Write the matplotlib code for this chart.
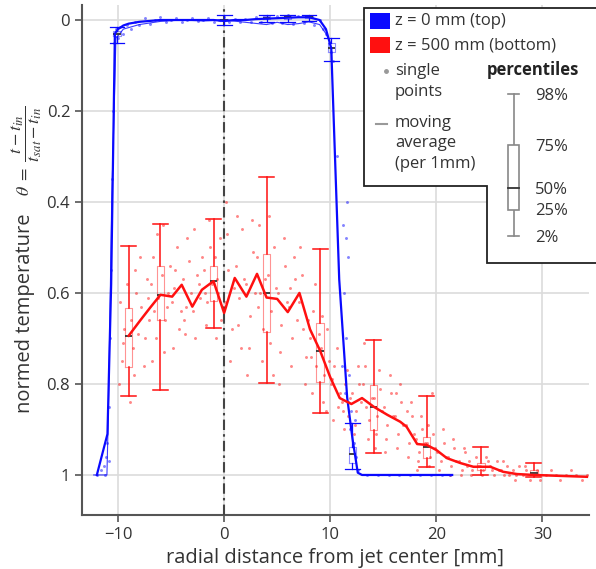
"""Normed temperature vs radial distance from the jet center (z = 0 / 500 mm)."""

import matplotlib
matplotlib.use("Agg")
import matplotlib.pyplot as plt
from matplotlib.patches import Polygon, Rectangle
from matplotlib.lines import Line2D

plt.rcParams["font.family"] = ["Open Sans", "DejaVu Sans"]
plt.rcParams["mathtext.fontset"] = "stix"

W, H = 596, 569
BLUE = "#0a0aff"
RED = "#ff1010"
INK = "#333333"

# ---- moving averages (per 1 mm) ----
blue_ma_x = [-12.0, -11.0, -10.65, -10.3, -10.0, -9.5, -9.0, -8.0, -7.0, -6.0, -5.0, -4.0,
             -3.0, -2.0, -1.0, 0.0, 1.0, 2.0, 3.0, 4.0, 5.0, 6.0, 7.0, 8.0, 9.0, 9.6,
             10.1, 10.85, 11.6, 12.1, 12.6, 13.0, 15.0, 17.0, 19.0, 21.5]
blue_ma_y = [1.0, 0.91, 0.58, 0.03, 0.02, 0.012, 0.008, 0.004, 0.002, 0.0, 0.0, 0.0,
             0.0, 0.0, 0.0, 0.002, 0.0, 0.0, -0.002, -0.003, -0.004, -0.005, -0.006, -0.006, 0.0, 0.02,
             0.062, 0.57, 0.83, 0.92, 0.995, 1.0, 1.0, 1.0, 1.0, 1.0]
blue_ma2_x = [-12.3, -11.05, -10.9, -10.6, -10.2, -9.5, -8.0, -6.0, -4.0, -2.0, 0.0, 2.0,
              4.0, 5.0, 6.0, 7.0, 8.0, 9.0, 9.6, 10.0]
blue_ma2_y = [1.0, 1.0, 0.85, 0.4, 0.04, 0.02, 0.01, 0.003, 0.0, 0.002, 0.0, 0.005,
              0.01, 0.005, 0.01, 0.008, 0.004, 0.01, 0.03, 0.05]

red_ma_x = [-9.0, -7.9, -7.0, -6.0, -4.9, -4.0, -3.0, -2.1, -1.0, 0.0, 1.0, 2.1, 3.1, 4.0,
            5.0, 6.0, 7.1, 8.1, 9.05, 10.0, 10.9, 12.0, 13.0, 14.1, 15.4, 16.6, 17.2, 18.2,
            19.1, 20.0, 21.0, 22.3, 23.5, 25.1, 26.3, 27.6, 29.2, 34.2]
red_ma_y = [0.694, 0.66, 0.633, 0.604, 0.608, 0.582, 0.63, 0.593, 0.574, 0.644, 0.567, 0.608,
            0.558, 0.61, 0.613, 0.642, 0.60, 0.68, 0.727, 0.785, 0.831, 0.844, 0.831, 0.85,
            0.868, 0.883, 0.894, 0.932, 0.934, 0.945, 0.963, 0.974, 0.982, 0.982, 0.993,
            0.998, 1.0, 1.004]

# ---- single points ----
blue_pts_x = [-10.4, -10.2, -10.0, -9.8, -9.5, -9.2, -8.8, -8.4, -8.0, -7.5, -7.0, -6.5, -6.0,
              -5.5, -5.0, -4.5, -4.0, -3.5, -3.0, -2.5, -2.0, -1.5, -1.0, -0.5, 0.0, 0.5, 1.0,
              1.5, 2.0, 2.5, 3.0, 3.5, 4.0, 4.5, 5.0, 5.5, 6.0, 6.5, 7.0, 7.5, 8.0, 8.5, 9.0,
              9.3, 9.6, 9.9, 10.1, 10.3,
              -10.5, -10.6, -10.7, -10.8, -10.9, -11.0, -11.1, -11.3, -11.6, -12.0, -11.2, -10.9,
              10.6, 11.2, 11.6, 11.5, 11.7, 11.3, 11.5, 11.8, 11.4, 12.0, 11.9, 12.2, 12.4, 12.6,
              12.3, 11.7, 11.1,
              13.5, 14.5, 15.5, 16.5, 17.5, 18.5, 19.5, 20.5, 21.3]
blue_pts_y = [0.05, 0.02, 0.04, 0.015, 0.03, 0.01, 0.02, 0.005, 0.012, -0.005, 0.008, 0.0, -0.006,
              0.004, 0.0, -0.004, 0.005, 0.0, -0.005, 0.003, 0.0, -0.004, 0.004, 0.0, -0.006, 0.004, -0.003,
              0.005, -0.002, 0.004, -0.006, 0.005, -0.004, 0.006, -0.008, 0.007, -0.01, 0.008, -0.009,
              0.006, -0.008, 0.01, 0.0, 0.02, 0.03, 0.05, 0.07, 0.09,
              0.2, 0.35, 0.55, 0.7, 0.85, 0.93, 0.96, 0.98, 0.99, 1.0, 1.0, 0.97,
              0.3, 0.45, 0.40, 0.48, 0.52, 0.60, 0.70, 0.78, 0.82, 0.86, 0.90, 0.93, 0.96, 0.99,
              0.88, 0.84, 0.76,
              1.0, 1.0, 1.0, 1.0, 1.0, 1.0, 1.0, 1.0, 1.0]

red_pts_x = [-9.8, -9.6, -9.4, -9.9, -9.2, -9.5,
             -8.8, -8.5, -8.3, -8.6, -8.1, -8.9, -8.4,
             -7.8, -7.5, -7.3, -7.6, -7.1, -7.9, -7.2,
             -6.9, -6.6, -6.4, -6.7, -6.2, -6.8, -6.3,
             -5.9, -5.6, -5.3, -5.7, -5.1, -5.4, -5.8,
             -4.9, -4.6, -4.3, -4.7, -4.1, -4.4, -4.8,
             -3.9, -3.6, -3.3, -3.7, -3.1, -3.5, -3.8,
             -2.9, -2.6, -2.3, -2.7, -2.1, -2.4, -2.8,
             -1.9, -1.6, -1.3, -1.7, -1.1, -1.4, -1.8,
             -0.9, -0.6, -0.3, -0.7, -0.1, -0.4, -0.8,
             0.1, 0.4, 0.7, 0.3, 0.9, 0.6, 0.2,
             1.1, 1.4, 1.7, 1.3, 1.9, 1.6, 1.2,
             2.1, 2.4, 2.7, 2.3, 2.9, 2.6, 2.2,
             3.1, 3.4, 3.7, 3.3, 3.9, 3.6, 3.2,
             4.1, 4.4, 4.7, 4.3, 4.9, 4.6, 4.2,
             5.1, 5.4, 5.7, 5.3, 5.9, 5.6, 5.2,
             6.1, 6.4, 6.7, 6.3, 6.9, 6.6, 6.2,
             7.1, 7.4, 7.7, 7.3, 7.9, 7.6, 7.2,
             8.1, 8.4, 8.7, 8.3, 8.9, 8.6, 8.2,
             9.1, 9.4, 9.7, 9.3, 9.9, 9.6, 9.2,
             10.1, 10.4, 10.7, 10.3, 10.9, 10.6, 10.2,
             11.1, 11.4, 11.7, 11.3, 11.9, 11.6, 11.2,
             12.1, 12.4, 12.7, 12.3, 12.9, 12.6, 12.2,
             13.1, 13.4, 13.7, 13.3, 13.9, 13.6, 13.2,
             14.1, 14.4, 14.7, 14.3, 14.9, 14.6, 14.2,
             15.1, 15.4, 15.7, 15.3, 15.9, 15.6, 15.2,
             16.1, 16.4, 16.7, 16.3, 16.9, 16.6, 16.2,
             17.1, 17.4, 17.7, 17.3, 17.9, 17.6, 17.2,
             18.1, 18.4, 18.7, 18.3, 18.9, 18.6, 18.2,
             19.1, 19.4, 19.7, 19.3, 19.9, 19.6, 19.2,
             20.1, 20.4, 20.7, 20.3, 20.9, 20.6,
             21.1, 21.4, 21.7, 21.3, 21.9, 21.6,
             22.1, 22.4, 22.7, 22.3, 22.9, 22.6,
             23.1, 23.4, 23.7, 23.3, 23.9,
             24.1, 24.4, 24.7, 24.3, 24.9,
             25.1, 25.4, 25.7, 25.3, 25.9,
             26.1, 26.4, 26.7, 26.3, 26.9,
             27.2, 27.5, 27.8, 27.4,
             28.2, 28.5, 28.8, 28.4,
             29.2, 29.5, 29.8,
             30.3, 30.8, 31.3, 31.7, 32.2, 32.7, 33.2, 33.7, 34.2]
red_pts_y = [0.62, 0.75, 0.68, 0.80, 0.58, 0.71,
             0.66, 0.78, 0.60, 0.72, 0.69, 0.84, 0.55,
             0.63, 0.70, 0.57, 0.76, 0.66, 0.52, 0.61,
             0.58, 0.64, 0.70, 0.52, 0.61, 0.75, 0.47,
             0.56, 0.66, 0.60, 0.73, 0.54, 0.63, 0.45,
             0.62, 0.55, 0.68, 0.59, 0.64, 0.50, 0.72,
             0.57, 0.63, 0.53, 0.69, 0.60, 0.48, 0.66,
             0.64, 0.56, 0.61, 0.70, 0.52, 0.58, 0.46,
             0.55, 0.62, 0.50, 0.67, 0.58, 0.44, 0.60,
             0.52, 0.60, 0.66, 0.57, 0.63, 0.48, 0.70,
             0.62, 0.55, 0.68, 0.47, 0.59, 0.75, 0.40,
             0.54, 0.61, 0.46, 0.67, 0.57, 0.72, 0.43,
             0.58, 0.65, 0.51, 0.72, 0.60, 0.44, 0.78,
             0.52, 0.60, 0.68, 0.45, 0.57, 0.75, 0.63,
             0.56, 0.64, 0.50, 0.71, 0.59, 0.78, 0.43,
             0.60, 0.67, 0.54, 0.73, 0.62, 0.48, 0.80,
             0.63, 0.70, 0.57, 0.76, 0.66, 0.52, 0.59,
             0.62, 0.68, 0.74, 0.56, 0.66, 0.80, 0.50,
             0.70, 0.64, 0.76, 0.82, 0.69, 0.58, 0.74,
             0.72, 0.78, 0.68, 0.84, 0.75, 0.86, 0.65,
             0.80, 0.76, 0.85, 0.88, 0.82, 0.72, 0.79,
             0.84, 0.80, 0.87, 0.90, 0.83, 0.77, 0.86,
             0.82, 0.86, 0.80, 0.89, 0.84, 0.76, 0.91,
             0.80, 0.85, 0.88, 0.76, 0.83, 0.92, 0.71,
             0.83, 0.87, 0.81, 0.91, 0.86, 0.77, 0.94,
             0.85, 0.89, 0.82, 0.92, 0.87, 0.78, 0.95,
             0.87, 0.91, 0.84, 0.94, 0.89, 0.80, 0.82,
             0.89, 0.93, 0.87, 0.96, 0.91, 0.84, 0.86,
             0.92, 0.95, 0.90, 0.97, 0.93, 0.87, 0.99,
             0.93, 0.96, 0.91, 0.98, 0.94, 0.82, 0.89,
             0.95, 0.97, 0.93, 0.99, 0.96, 0.90,
             0.96, 0.98, 0.94, 1.00, 0.97, 0.92,
             0.97, 0.99, 0.95, 1.00, 0.98, 0.94,
             0.97, 0.99, 0.96, 1.00, 0.98,
             0.98, 0.99, 0.96, 1.00, 0.97,
             0.98, 1.00, 0.97, 0.99, 0.99,
             0.99, 1.00, 0.98, 0.97, 1.00,
             0.99, 1.00, 0.98, 1.01,
             1.00, 0.99, 1.01, 0.98,
             1.00, 0.99, 1.01,
             1.00, 0.99, 1.00, 1.01, 1.00, 0.99, 1.00, 1.01, 1.00]

# ---- percentiles per box position: 2 %, 25 %, 50 %, 75 %, 98 % ----
red_box_pos = [-9.0, -6.0, -1.0, 4.0, 9.05, 14.1, 19.1, 24.2, 29.2]
red_p02 = [0.826, 0.813, 0.677, 0.798, 0.864, 0.952, 0.982, 1.000, 1.005]
red_p25 = [0.763, 0.659, 0.618, 0.686, 0.796, 0.901, 0.963, 0.990, 1.000]
red_p50 = [0.694, 0.604, 0.574, 0.599, 0.727, 0.850, 0.938, 0.982, 0.995]
red_p75 = [0.633, 0.540, 0.540, 0.514, 0.666, 0.802, 0.916, 0.974, 0.990]
red_p98 = [0.497, 0.448, 0.437, 0.345, 0.503, 0.703, 0.826, 0.938, 0.974]

blue_box_pos = [-10.1, 0.0, 4.0, 6.0, 8.0, 10.1, 12.1]
blue_p02 = [0.050, 0.010, 0.005, 0.004, 0.003, 0.090, 0.987]
blue_p25 = [0.035, 0.003, -0.002, -0.003, -0.004, 0.070, 0.974]
blue_p50 = [0.030, 0.000, -0.005, -0.006, -0.007, 0.062, 0.954]
blue_p75 = [0.025, -0.003, -0.008, -0.008, -0.009, 0.050, 0.938]
blue_p98 = [0.015, -0.010, -0.012, -0.012, -0.012, 0.040, 0.886]


def _stats(p02, p25, p50, p75, p98):
    return [dict(whislo=a, q1=b, med=c, q3=d, whishi=e, fliers=[])
            for a, b, c, d, e in zip(p02, p25, p50, p75, p98)]


def _boxes(ax, pos, stats, color, lw):
    ax.bxp(stats, positions=pos, widths=0.7, capwidths=1.4, manage_ticks=False,
           showfliers=False, patch_artist=False,
           boxprops=dict(color=color, lw=0.8, alpha=0.45),
           whiskerprops=dict(color=color, lw=lw),
           capprops=dict(color=color, lw=lw),
           medianprops=dict(color="#333333", lw=1.3), zorder=4)


fig = plt.figure(figsize=(W / 100, H / 100), dpi=100)
ax = fig.add_axes([82 / W, 1 - 515 / H, (589 - 82) / W, (515 - 5) / H])

ax.scatter(red_pts_x, red_pts_y, s=4.5, color=RED, alpha=0.5, lw=0, zorder=2)
ax.scatter(blue_pts_x, blue_pts_y, s=4.5, color=BLUE, alpha=0.5, lw=0, zorder=2)

_boxes(ax, red_box_pos, _stats(red_p02, red_p25, red_p50, red_p75, red_p98), RED, 1.1)
_boxes(ax, blue_box_pos, _stats(blue_p02, blue_p25, blue_p50, blue_p75, blue_p98), BLUE, 0.9)

ax.plot(blue_ma2_x, blue_ma2_y, color=BLUE, lw=0.8, alpha=0.8, zorder=3)
ax.plot(blue_ma_x, blue_ma_y, color=BLUE, lw=1.6, zorder=5)
ax.plot(red_ma_x, red_ma_y, color=RED, lw=1.8, zorder=5)

ax.axvline(0, color="#444444", lw=1.5, ls=(0, (5, 2, 1.2, 2)), zorder=3)

ax.set_xlim(-13.4, 34.4)
ax.set_ylim(1.088, -0.033)
ax.set_xticks([-10, 0, 10, 20, 30])
ax.set_yticks([0, 0.2, 0.4, 0.6, 0.8, 1.0])
ax.set_yticklabels(["0", "0.2", "0.4", "0.6", "0.8", "1"])
ax.grid(True, color="#dcdcdc", lw=1.2, zorder=0)
ax.set_axisbelow(True)
for s in ("top", "right"):
    ax.spines[s].set_visible(False)
for s in ("left", "bottom"):
    ax.spines[s].set_color("#555555")
    ax.spines[s].set_linewidth(1.5)
ax.tick_params(colors="#555555", labelcolor=INK, labelsize=12, length=5, width=1.2)

ax.set_xlabel("radial distance from jet center [mm]", fontsize=14.5, color=INK, labelpad=4)
fig.text(25 / W, 1 - 313 / H, "normed temperature", rotation=90, fontsize=14.5,
         color=INK, ha="center", va="center")
fig.text(27 / W, 1 - 151 / H, r"$\theta\ =\ \dfrac{t-t_{in}}{t_{sat}-t_{in}}$", rotation=90,
         fontsize=13, color=INK, ha="center", va="center")


# ---- hand-drawn legend box (stepped outline) ----
def fx(x):
    return x / W


def fy(y):
    return 1 - y / H


outline = [(364, 8), (600, 8), (600, 263), (487, 263), (487, 186), (364, 186)]
fig.add_artist(Polygon([(fx(x), fy(y)) for x, y in outline], closed=True,
                       transform=fig.transFigure, facecolor="white",
                       edgecolor="#222222", lw=1.3, zorder=10))
fig.add_artist(Rectangle((fx(370), fy(29)), 20 / W, 16 / H, transform=fig.transFigure,
                         facecolor=BLUE, edgecolor="none", zorder=11))
fig.add_artist(Rectangle((fx(370), fy(53)), 20 / W, 16 / H, transform=fig.transFigure,
                         facecolor=RED, edgecolor="none", zorder=11))
leg_kw = dict(fontsize=12, color=INK, va="center", ha="left", zorder=12)
fig.text(fx(395), fy(21), "z = 0 mm (top)", **leg_kw)
fig.text(fx(395), fy(45), "z = 500 mm (bottom)", **leg_kw)
fig.text(fx(395), fy(71), "single", **leg_kw)
fig.text(fx(395), fy(92), "points", **leg_kw)
fig.text(fx(395), fy(123), "moving", **leg_kw)
fig.text(fx(395), fy(143), "average", **leg_kw)
fig.text(fx(395), fy(164), "(per 1mm)", **leg_kw)
fig.add_artist(Line2D([fx(386)], [fy(71)], marker="o", ms=2.5, color="#999999",
                      transform=fig.transFigure, zorder=12))
fig.add_artist(Line2D([fx(376), fx(387)], [fy(124), fy(124)], color="#999999", lw=1.5,
                      transform=fig.transFigure, zorder=12))

fig.text(fx(487), fy(70), "percentiles", fontsize=12, fontweight="bold", color="#222222",
         va="center", ha="left", zorder=12)
gx, gl, gr = fx(513.5), fx(508), fx(519)
grey = "#888888"
for y0, y1 in [(94, 145), (210, 236)]:
    fig.add_artist(Line2D([gx, gx], [fy(y0), fy(y1)], color=grey, lw=1.2,
                          transform=fig.transFigure, zorder=12))
for yc in (94, 236):
    fig.add_artist(Line2D([gl, gr], [fy(yc), fy(yc)], color=grey, lw=1.2,
                          transform=fig.transFigure, zorder=12))
fig.add_artist(Rectangle((gl, fy(210)), gr - gl, (210 - 145) / H, transform=fig.transFigure,
                         facecolor="white", edgecolor=grey, lw=1.2, zorder=12))
fig.add_artist(Line2D([gl, gr], [fy(188), fy(188)], color="#333333", lw=1.3,
                      transform=fig.transFigure, zorder=13))
for label, yc in [("98%", 96), ("75%", 147), ("50%", 190), ("25%", 211), ("2%", 238)]:
    fig.text(fx(535), fy(yc), label, **leg_kw)

fig.savefig("out.png", dpi=100)
